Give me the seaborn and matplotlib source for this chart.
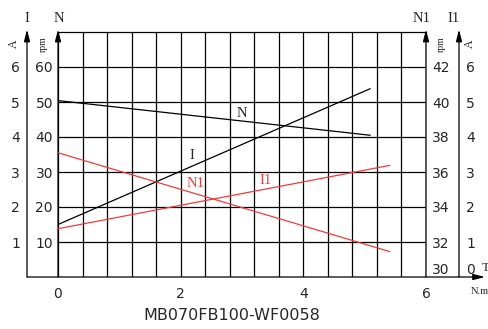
import matplotlib
matplotlib.use("Agg")
import matplotlib.pyplot as plt
import seaborn as sns
import numpy as np
import pandas as pd

# torque (N.m) at the two ends of each curve
torque_a = [0.0, 5.09]
torque_b = [0.0, 5.41]
speed_n = [50.4, 40.5]      # N, rpm (left scale)
current_i = [1.5, 5.38]     # I, A (left outer scale)
speed_n1 = [37.1, 31.45]    # N1, rpm (right scale)
current_i1 = [1.38, 3.19]   # I1, A (right outer scale)

x_ticks = [0, 2, 4, 6]
n_ticks = [10, 20, 30, 40, 50, 60]
i_ticks = [1, 2, 3, 4, 5, 6]
n1_ticks = [30, 32, 34, 36, 38, 40, 42]
i1_ticks = [0, 1, 2, 3, 4, 5, 6]

W, H = 489, 329
sns.set_style("white")
plt.rcParams['font.family'] = ['DejaVu Sans']
serif = 'Liberation Serif'

fig = plt.figure(figsize=(W / 100, H / 100), dpi=100)
ax = fig.add_axes([58 / W, 1 - 277 / H, 368 / W, 245 / H])

def pt(px):
    return px * 72 / 100

red = '#f03c3c'
tick_fs = 10

# N on the main axes
sns.lineplot(x=torque_a, y=speed_n, ax=ax, color='black', lw=0.9, zorder=5)
ax.set_xlim(0, 6)
ax.set_ylim(0, 70)
ax.set_xticks(x_ticks)
ax.set_xticks(np.arange(0, 6.01, 0.4), minor=True)
ax.set_yticks(n_ticks)
ax.grid(which='both', axis='x', color='black', lw=0.9)
ax.grid(which='major', axis='y', color='black', lw=0.9)
ax.tick_params(axis='x', which='both', length=0, pad=pt(10), labelsize=tick_fs)
ax.tick_params(axis='y', length=0, pad=pt(5), labelsize=tick_fs)
for s in ['left', 'right', 'bottom']:
    ax.spines[s].set_visible(False)
ax.spines['top'].set_color('black')
ax.spines['top'].set_linewidth(0.9)

# I, left outer
ax_i = ax.twinx()
sns.lineplot(x=torque_a, y=current_i, ax=ax_i, color='black', lw=0.9)
ax_i.set_ylim(0, 7)
ax_i.yaxis.tick_left()
ax_i.set_yticks(i_ticks)
ax_i.tick_params(axis='y', length=0, pad=pt(38), labelsize=tick_fs)

# N1, right
ax_n1 = ax.twinx()
sns.lineplot(x=torque_b, y=speed_n1, ax=ax_n1, color=red, lw=0.9)
ax_n1.set_ylim(30, 44)
ax_n1.set_yticks(n1_ticks)
ax_n1.tick_params(axis='y', length=0, pad=pt(6), labelsize=tick_fs)

# I1, right outer
ax_i1 = ax.twinx()
sns.lineplot(x=torque_b, y=current_i1, ax=ax_i1, color=red, lw=0.9)
ax_i1.set_ylim(0, 7)
ax_i1.set_yticks(i1_ticks)
ax_i1.tick_params(axis='y', length=0, pad=pt(40), labelsize=tick_fs)

for a in [ax_i, ax_n1, ax_i1]:
    a.set_xlim(0, 6)
    a.set_ylabel('')
    for s in a.spines.values():
        s.set_visible(False)
    a.grid(False)
for a in [ax_n1, ax_i1]:
    for lbl in a.get_yticklabels():
        if lbl.get_text() in ('30', '0'):
            lbl.set_va('bottom')

# axis arrows
arrow = dict(arrowstyle='-|>,head_length=0.7,head_width=0.18', lw=0.9,
             color='black', shrinkA=0, shrinkB=0)
for xf in [(27 - 58) / 368, 0, 1, (459 - 58) / 368]:
    ax.annotate('', xy=(xf, 1.01), xytext=(xf, 0), xycoords='axes fraction',
                arrowprops=arrow)
ax.annotate('', xy=((485 - 58) / 368, 0), xytext=((27 - 58) / 368, 0),
            xycoords='axes fraction', arrowprops=arrow)

# curve labels
ax.text(3.0, 46.7, 'N', family=serif, fontsize=10.5, ha='center', va='center')
ax.text(2.19, 34.7, 'I', family=serif, fontsize=10.5, ha='center', va='center')
ax.text(2.24, 26.7, 'N1', family=serif, fontsize=10.5, color=red, ha='center', va='center')
ax.text(3.38, 27.6, 'I1', family=serif, fontsize=10.5, color=red, ha='center', va='center')

def ftext(px, py, s, **kw):
    fig.text(px / W, 1 - py / H, s, ha='center', va='center', **kw)

ftext(27, 19, 'I', family=serif, fontsize=10.5)
ftext(59, 19, 'N', family=serif, fontsize=10.5)
ftext(422, 19, 'N1', family=serif, fontsize=10.5)
ftext(454, 19, 'I1', family=serif, fontsize=10.5)
ftext(14, 44, 'A', family=serif, fontsize=8.5, rotation=90)
ftext(43, 44, 'rpm', family=serif, fontsize=7, rotation=90)
ftext(441, 44, 'rpm', family=serif, fontsize=7, rotation=90)
ftext(470, 44, 'A', family=serif, fontsize=8.5, rotation=90)
fig.text(482 / W, 1 - 268 / H, 'T', family=serif, fontsize=9.5, ha='left', va='center')
ftext(480, 292, 'N.m', family=serif, fontsize=7.5)
ftext(232, 316, 'MB070FB100-WF0058', fontsize=11.5)

fig.savefig('out.png', dpi=100)
